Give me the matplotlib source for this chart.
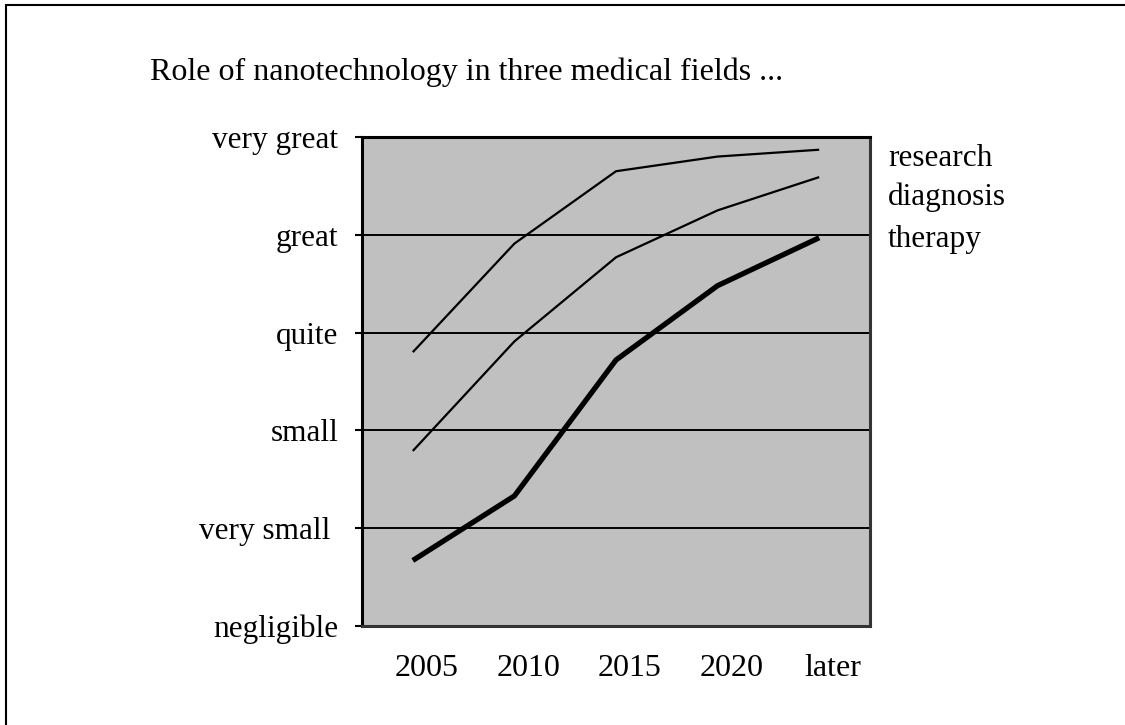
import numpy as np
import matplotlib.pyplot as plt
import matplotlib.transforms as mtransforms
from matplotlib.patches import Rectangle

plt.rcParams['font.family'] = ['Liberation Serif', 'DejaVu Serif']

# data (0 = negligible ... 5 = very great)
periods = ['2005', '2010', '2015', '2020', 'later']
levels = ['negligible', 'very small ', 'small', 'quite', 'great', 'very great']
research = [2.80, 3.91, 4.65, 4.80, 4.87]
diagnosis = [1.79, 2.91, 3.77, 4.25, 4.59]
therapy = [0.67, 1.33, 2.72, 3.48, 3.97]
series_names = ['research', 'diagnosis', 'therapy']

FS = 22.5
W, H = 1125, 725
fig = plt.figure(figsize=(W / 100, H / 100), dpi=100)
ax = fig.add_axes([362 / W, 1 - 626 / H, (870 - 362) / W, (626 - 137) / H])
ax.set_facecolor('#c0c0c0')

x = np.arange(len(periods))
ax.plot(x, research, color='black', lw=1.6, solid_capstyle='butt')
ax.plot(x, diagnosis, color='black', lw=1.6, solid_capstyle='butt')
ax.plot(x, therapy, color='black', lw=3.8, solid_capstyle='butt')

ax.set_xlim(-0.5, len(periods) - 0.5)
ax.set_ylim(0, len(levels) - 1)
ax.set_yticks(range(len(levels)))
ax.set_yticklabels(levels, fontsize=FS)
ax.set_xticks(x)
ax.set_xticklabels(periods, fontsize=FS + 0.5)
for lv in range(1, len(levels) - 1):
    ax.axhline(lv, color='black', lw=1.4)

ax.tick_params(axis='y', length=5, width=1.5, pad=12)
ax.tick_params(axis='x', length=0, pad=20)
# shift the year labels slightly right as in the original
offset = mtransforms.ScaledTranslation(14 / 100, 0, fig.dpi_scale_trans)
for lab in ax.get_xticklabels():
    lab.set_transform(lab.get_transform() + offset)

for side in ['left', 'top']:
    ax.spines[side].set_linewidth(2.2)
for side in ['right', 'bottom']:
    ax.spines[side].set_linewidth(2.2)
    ax.spines[side].set_color('#333333')

# series names to the right of the plot
for name, ypix in zip(series_names, [158, 197, 240]):
    fig.text(888 / W, 1 - ypix / H, name, fontsize=FS, va='center', ha='left')

fig.text(150 / W, 1 - 72 / H, 'Role of nanotechnology in three medical fields ...',
         fontsize=23, va='center', ha='left')

# page frame (left and top edges visible)
fig.patches.append(Rectangle((6 / W, -0.1), 1.2, 1 - 5 / H + 0.1,
                             transform=fig.transFigure, fill=False,
                             edgecolor='black', lw=1.5))

fig.savefig('out.png', dpi=100)
